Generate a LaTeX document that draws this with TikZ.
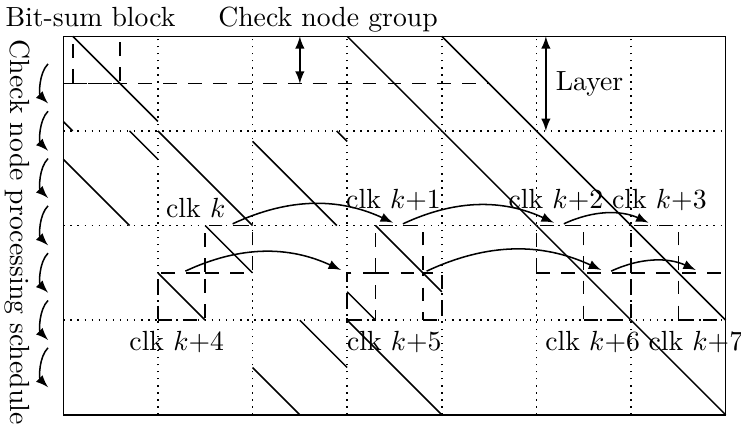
\documentclass[tikz,border=0pt]{standalone}
\usepackage{tikz}

\begin{document}
\begin{tikzpicture}[x=1.2cm, y=1.2cm, line width=0.55pt,
  bitsum/.style={draw, dash pattern=on 5pt off 4pt, inner sep=0pt, outer sep=0pt, minimum height=0.6cm},
  flow/.style={-latex, shorten <=1.5pt, shorten >=2.5pt},
  sched/.style={-latex, shorten <=2pt, shorten >=2pt},
  dim/.style={latex-latex},
  lbl/.style={anchor=base, inner sep=0pt},
]
\useasboundingbox (-0.669,-0.148) rectangle (7.162,4.384);

% layers x circulant columns
\draw[dotted, step=1.2cm] (0,0) grid (7,4);
\draw (0,0) rectangle (7,4);

% shifted identities: column/layer/shift
\foreach \c/\r/\s in {0/0/0.1, 3/0/0, 4/0/0, 0/1/0.7, 1/1/0, 2/1/0.89, 4/1/0, 5/1/0,
                      1/2/0.5, 3/2/0.3, 5/2/0, 6/2/0, 2/3/0.5, 3/3/0, 6/3/0}
  \draw (\c+\s,4-\r) -- (\c+1,3-\r+\s) (\c,3-\r+\s) -- (\c+\s,3-\r);

% bit-sum block and check node group
\node[bitsum, minimum width=0.6cm] (bsb) at (0.35,3.75) {};
\draw[dash pattern=on 5pt off 4pt] (0,3.5) -- (4.5,3.5);

\node[lbl] (bsblbl) at (0.288,4.101) {Bit-sum block};
\node[lbl] (cnglbl) at (2.798,4.101) {Check node group};

\coordinate (cngT) at (2.5,4);
\coordinate (cngB) at (2.5,3.5);
\draw[dim] (cngT) -- (cngB);

\coordinate (layT) at (5.1,4);
\coordinate (layB) at (5.1,3);
\draw[dim] (layT) -- (layB) node[midway, right] (laylbl) {Layer};

% bit-sum blocks of the third layer, one per clock
\node[bitsum, minimum width=0.6cm] (clk0) at (1.75,1.75) {};
\node[bitsum, minimum width=0.6cm] (clk1) at (3.55,1.75) {};
\node[bitsum, minimum width=0.6cm] (clk2) at (5.25,1.75) {};
\node[bitsum, minimum width=0.6cm] (clk3) at (6.25,1.75) {};
\node[bitsum, minimum width=0.6cm] (clk4) at (1.25,1.25) {};
\node[bitsum, minimum width=0.24cm] (clk5) at (3.9,1.25) {};
\node[bitsum, minimum width=0.36cm] (clk5w) at (3.15,1.25) {};
\node[bitsum, minimum width=0.6cm] (clk6) at (5.75,1.25) {};
\node[bitsum, minimum width=0.6cm] (clk7) at (6.75,1.25) {};

\draw[flow] (clk0.north) to[bend left=25] (clk1.north);
\draw[flow] (clk1.north) to[bend left=25] (clk2.north);
\draw[flow] (clk2.north) to[bend left=25] (clk3.north);
\draw[flow] (clk4.north) to[bend left=25] (clk5w.north west);
\draw[flow] (clk5.north west) to[bend left=25] (clk6.north);
\draw[flow] (clk6.north) to[bend left=25] (clk7.north);

\node[lbl] (lk0) at (1.40,2.085) {clk $k$};
\node[lbl] (lk1) at (3.49,2.182) {clk $k$+1};
\node[lbl] (lk2) at (5.206,2.182) {clk $k$+2};
\node[lbl] (lk3) at (6.299,2.182) {clk $k$+3};
\node[lbl] (lk4) at (1.199,0.685) {clk $k$+4};
\node[lbl] (lk5) at (3.498,0.685) {clk $k$+5};
\node[lbl] (lk6) at (5.594,0.685) {clk $k$+6};
\node[lbl] (lk7) at (6.685,0.685) {clk $k$+7};

% processing order of the check node groups
\node[rotate=-90] (sched) at (-0.49,1.93) {Check node processing schedule};
\foreach \i in {0,...,7}
  \coordinate (grp\i) at (-0.12,3.75-0.5*\i);
\foreach \i [count=\j] in {0,...,6}
  \draw[sched] (grp\i) to[bend right=45] (grp\j);

\end{tikzpicture}
\end{document}
